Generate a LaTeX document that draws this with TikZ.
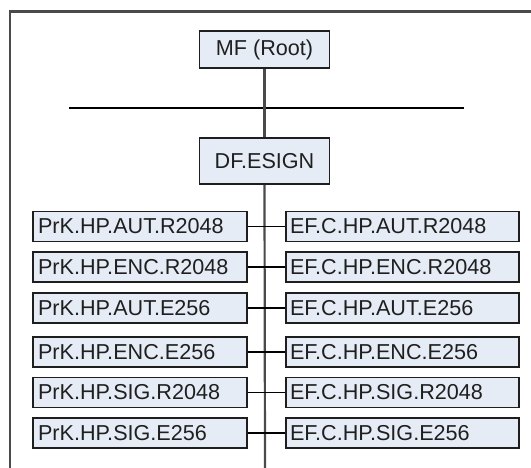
\documentclass[tikz,border=0pt]{standalone}
\usepackage{fontspec}
\setmainfont{Liberation Sans}
\definecolor{boxfill}{HTML}{E6ECF6}
\definecolor{boxline}{HTML}{1E1E1E}
\definecolor{framecol}{HTML}{4A4A4A}
\definecolor{trunkcol}{HTML}{4A4A4A}
\tikzset{
  box/.style={draw=boxline, line width=1.9pt, fill=boxfill, inner sep=0pt,
    font=\fontsize{21.6}{25}\selectfont, text=black!88},
  topbox/.style={box, minimum width=130pt},
  lbox/.style={box, minimum height=30pt, text width=204pt, inner xsep=5pt, align=left},
  rbox/.style={box, minimum height=30pt, text width=225pt, inner xsep=4pt, align=left},
  conn/.style={draw=black, line width=1.7pt},
  trunk/.style={draw=trunkcol, line width=2.2pt},
  framestyle/.style={draw=framecol, line width=2.6pt}
}
\begin{document}
\begin{tikzpicture}[x=1pt,y=-1pt]
\useasboundingbox (0,0) rectangle (531,468);
% frame
\coordinate (fbl) at (10,468);
\coordinate (ftl) at (10,11.5);
\coordinate (ftr) at (531,11.5);
\draw[framestyle] (fbl) -- (ftl) -- (ftr);
% top nodes
\node[topbox, minimum height=37pt] (mf) at (264.5,49.5) {MF (Root)};
\node[topbox, minimum height=46pt] (df) at (264.5,161) {DF.ESIGN};
\coordinate (barL) at (69,108);
\coordinate (barR) at (464,108);
\coordinate (bottom) at (265,468);
\draw[conn] (barL) -- (barR);
\draw[trunk] (mf.south) -- (df.north);
\draw[trunk] (df.south) -- (bottom);
% rows
\node[lbox] (l1) at (140,226.5) {PrK.HP.AUT.R2048};
\node[lbox] (l2) at (140,267) {PrK.HP.ENC.R2048};
\node[lbox] (l3) at (140,308) {PrK.HP.AUT.E256};
\node[lbox] (l4) at (140,352) {PrK.HP.ENC.E256};
\node[lbox] (l5) at (140,392.5) {PrK.HP.SIG.R2048};
\node[lbox] (l6) at (140,433) {PrK.HP.SIG.E256};
\node[rbox] (r1) at (402.5,226.5) {EF.C.HP.AUT.R2048};
\node[rbox] (r2) at (402.5,267) {EF.C.HP.ENC.R2048};
\node[rbox] (r3) at (402.5,308) {EF.C.HP.AUT.E256};
\node[rbox] (r4) at (402.5,352) {EF.C.HP.ENC.E256};
\node[rbox] (r5) at (402.5,392.5) {EF.C.HP.SIG.R2048};
\node[rbox] (r6) at (402.5,433) {EF.C.HP.SIG.E256};
\foreach \i in {1,...,6} {\draw[conn] (l\i.east) -- (r\i.west);}
\end{tikzpicture}
\end{document}
